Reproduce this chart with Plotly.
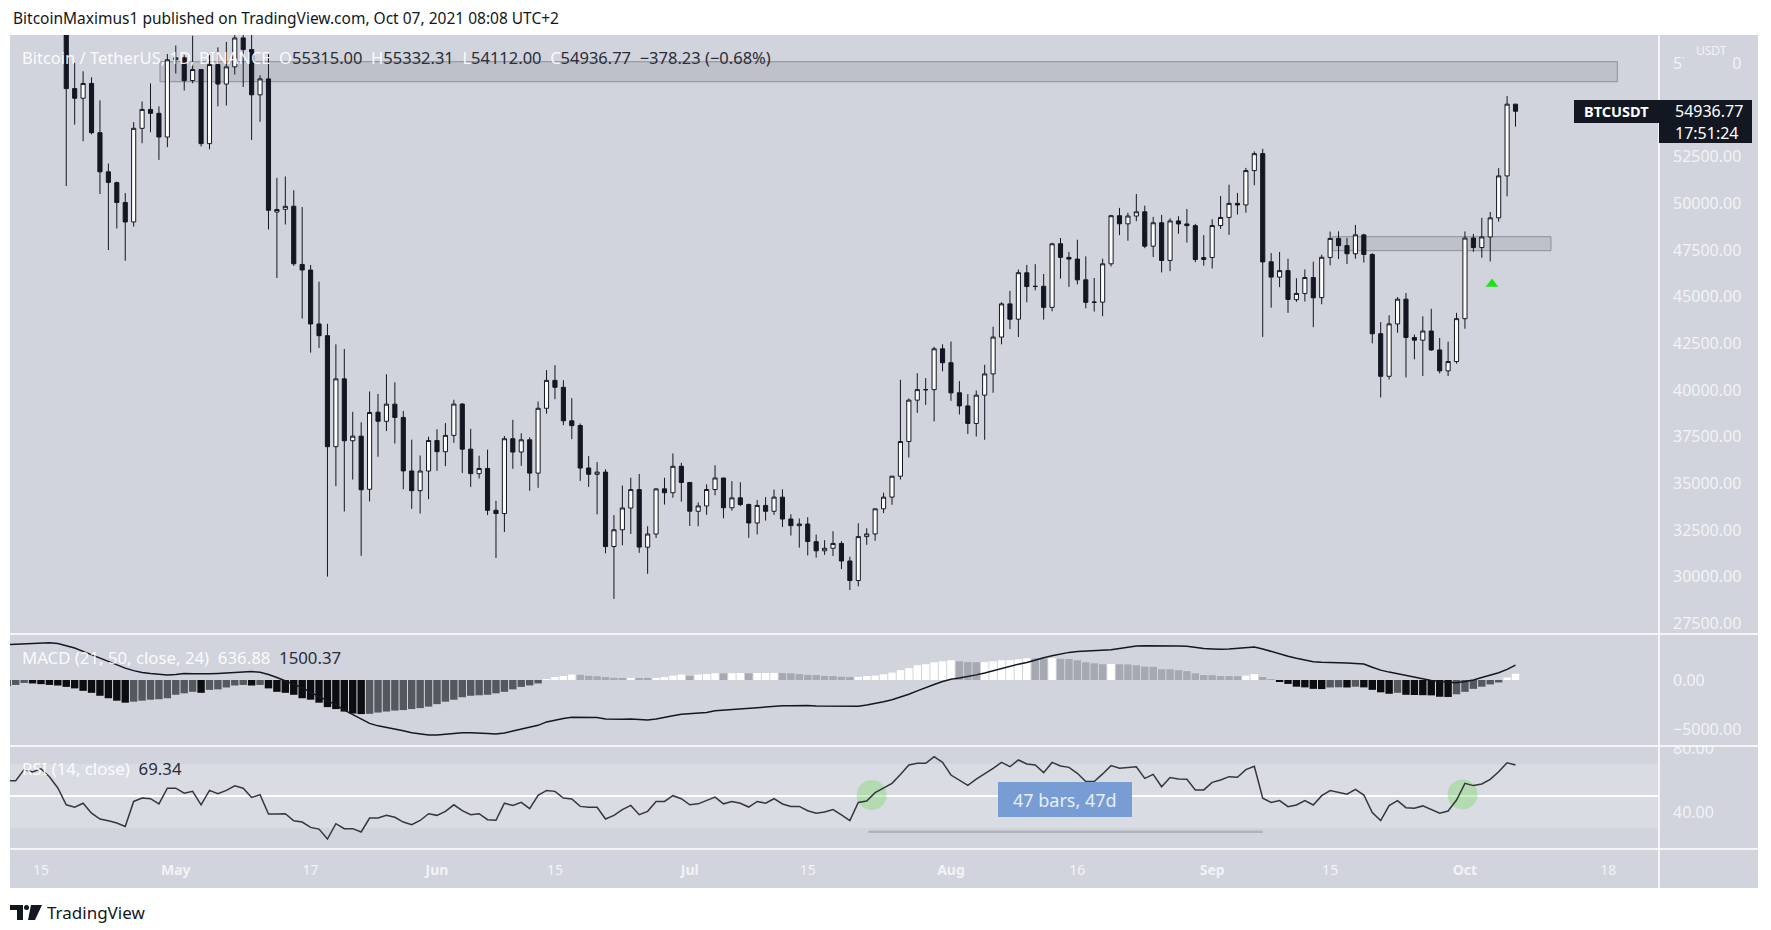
import pandas as pd
import plotly.graph_objects as go
from plotly.subplots import make_subplots

# ---------------- data (daily, 2021-04-11 .. 2021-10-07) ----------------
start_date = "2021-04-11"

opens = [
59770, 59979, 59800, 63575, 62960, 63160, 61334, 60006, 56150, 55633,
56425, 53787, 51690, 51110, 50047, 49004, 54021, 55034, 54824, 53555,
57697, 57798, 56578, 57169, 53200, 57436, 56393, 57315, 58866, 58240,
55816, 56670, 49537, 49682, 49845, 46727, 46427, 43538, 42910, 36964,
40596, 37281, 37528, 34681, 38810, 38324, 39241, 38529, 35661, 34606, 35659,
37293, 36694, 37568, 39246, 36830, 35516, 35796, 33556, 33380, 37389,
36677, 37331, 35546, 39021, 40516, 40143, 38349, 38098, 35820, 35483,
35601, 31614, 32510, 33676, 34663, 31577, 32283, 34702, 34495, 35912,
35045, 33502, 33786, 34668, 35284, 33690, 34220, 33863, 32875, 33815,
33502, 34259, 33086, 32729, 32820, 31874, 31383, 31520, 31778, 30839,
29790, 32144, 32287, 33634, 34261, 35381, 37241, 39456, 40019, 40019, 42206,
41461, 39850, 39146, 38208, 39723, 40862, 42836, 44614, 43794, 46280,
45543, 45558, 44428, 47835, 47107, 47014, 45904, 44696, 44710, 46760,
49339, 48903, 49322, 49547, 47707, 48961, 46942, 49059, 48897, 48807, 46991,
47100, 48810, 49246, 49999, 49917, 51756, 52666, 46868, 46048, 46396,
44842, 45173, 46026, 44949, 47103, 48122, 47737, 47299, 48311, 47261,
43017, 40735, 43540, 44866, 42810, 42670, 43160, 42147, 41025, 41524,
43820, 48142, 47632, 48200, 49224, 51471, 55315]

highs = [
60790, 61199, 63777, 64854, 63800, 63520, 62506, 60499, 57526, 57076,
56757, 55521, 52130, 51166, 50555, 54356, 55460, 56428, 55196, 58000,
58458, 57944, 58981, 57200, 57937, 58360, 58650, 59500, 59300, 59592,
56862, 58000, 51367, 51439, 50700, 49800, 46700, 45800, 43546, 42451,
42200, 38829, 38270, 39920, 39791, 40841, 40411, 38877, 37338, 36488, 37499,
37896, 38225, 39476, 39289, 37916, 36480, 36800, 34068, 37534, 38400,
37680, 37463, 39380, 41064, 41330, 40527, 39560, 38204, 36457, 36137,
35750, 33298, 34881, 35298, 35500, 32700, 34749, 35297, 36600, 36100,
35057, 33977, 34945, 35967, 35293, 35118, 35059, 33918, 34100, 34262,
34666, 34679, 33340, 33114, 33185, 32249, 31955, 32435, 31899, 31063,
32858, 32591, 33650, 34500, 35398, 40550, 39542, 40900, 40640, 42316, 42448,
42599, 40480, 39780, 39969, 41350, 43392, 44700, 45310, 46454, 46700,
46743, 46218, 47886, 48144, 47400, 48053, 47160, 46000, 47033, 49382,
49757, 49500, 50500, 49876, 49278, 49380, 49200, 49310, 49700, 48900, 48300,
49150, 50392, 51000, 50558, 51900, 52780, 52920, 47340, 47399, 47033,
45987, 46460, 46876, 47250, 48487, 48500, 48150, 48843, 48373, 47328,
43639, 44000, 44978, 45200, 42966, 43950, 44350, 42787, 42590, 44132,
48495, 48360, 49228, 49536, 51886, 55750, 55332.31]

lows = [
59289, 59369, 59800, 61301, 62020, 60000, 59580, 50931, 54221, 53329,
53695, 50500, 47500, 48657, 46930, 48753, 53222, 53813, 52330, 53013,
56956, 56044, 56435, 53046, 52900, 55200, 55241, 56900, 56235, 53400,
54370, 48600, 46000, 48868, 46650, 43825, 42001, 42250, 30000, 34850,
33488, 35200, 31111, 34031, 36420, 37800, 37134, 34684, 33632, 33379, 34153,
35666, 35920, 37170, 35555, 34800, 35258, 33300, 31000, 32396, 35782,
35936, 34600, 34757, 38730, 39506, 38116, 37365, 35129, 34803, 33336,
31251, 28805, 31683, 32286, 31275, 30151, 32071, 33862, 34225, 34017,
32712, 32699, 33316, 34357, 33125, 33532, 33777, 32080, 32261, 33004,
33306, 32658, 32202, 31550, 31133, 31020, 31164, 31108, 30407, 29278,
29482, 31708, 31925, 33401, 33851, 35205, 36383, 38772, 39200, 38316, 41000,
39422, 38690, 37642, 37508, 37332, 39853, 42446, 43261, 42843, 44700,
45341, 43770, 44217, 45971, 45525, 45660, 44376, 44203, 43955, 46622,
48300, 48000, 49045, 47600, 47123, 46300, 46371, 48370, 47900, 46850, 46660,
46512, 48634, 48316, 49400, 49500, 50969, 42843, 44412, 45513, 44132,
44722, 44742, 43370, 44594, 46682, 47020, 46750, 47032, 46829, 42500,
39600, 40565, 43069, 40675, 41646, 40750, 42098, 40888, 40753, 41410,
43283, 47400, 47088, 46891, 49022, 50382, 54112]

closes = [
59979, 59800, 63575, 62960, 63160, 61334, 60006, 56150, 55633, 56425,
53787, 51690, 51125, 50047, 49004, 54021, 55034, 54824, 53555, 57694,
57800, 56578, 57169, 53200, 57436, 56393, 57314, 58862, 58240, 55816,
56670, 49631, 49670, 49841, 46762, 46431, 43538, 42909, 36964, 40596,
37281, 37528, 34655, 38796, 38325, 39241, 38529, 35663, 34606, 35658, 37293,
36694, 37569, 39246, 36829, 35520, 35796, 33552, 33380, 37388, 36675,
37331, 35546, 39020, 40516, 40144, 38349, 38092, 35819, 35483, 35600,
31608, 32510, 33678, 34663, 31584, 32283, 34700, 34494, 35911, 35045,
33504, 33787, 34669, 35286, 33690, 34220, 33862, 32875, 33815, 33502,
34259, 33086, 32730, 32820, 31880, 31383, 31520, 31778, 30839, 29790,
32144, 32287, 33634, 34258, 35381, 37237, 39457, 40019, 40016, 42206, 41462,
39846, 39147, 38207, 39723, 40862, 42836, 44614, 43792, 46285, 45543,
45555, 44428, 47834, 47107, 47014, 45902, 44696, 44710, 46760, 49339,
48905, 49321, 49546, 47707, 48960, 46942, 49058, 48897, 48807, 46991, 47100,
48810, 49246, 49999, 49915, 51756, 52663, 46863, 46048, 46395, 44851,
45173, 46026, 44940, 47111, 48122, 47737, 47299, 48314, 47260, 43012,
40734, 43543, 44865, 42811, 42670, 43160, 42147, 41026, 41524, 43824,
48141, 47634, 48200, 49224, 51471, 55315, 54936.77]

macd_line = [
3600,
3650, 3700, 3740, 3770, 3780, 3700, 3500, 3250, 2900, 2550,
2200, 1900, 1550, 1200, 950, 760, 650, 560, 500, 560,
650, 640, 620, 640, 670, 720, 780, 830, 850, 780,
560, 250, -120, -450, -780, -1250, -1650, -2100, -2530, -3050,
-3500, -4000, -4400, -4650, -4800, -5000, -5150, -5350, -5480,
-5570, -5580, -5500, -5380, -5340, -5340, -5350, -5420, -5480, -5380,
-5180, -5000, -4850, -4600, -4250, -4050, -3900, -3790, -3780, -3770,
-3800, -3950, -4000, -3990, -3960, -4000, -4050, -3950, -3750, -3620,
-3480, -3420, -3380, -3300, -3130, -3060, -2990, -2940, -2880, -2800,
-2740, -2660, -2620, -2600, -2580, -2590, -2640, -2650, -2640,
-2670, -2700, -2650, -2530, -2380, -2200, -2000, -1750, -1450, -1100,
-750, -450, -150, 80, 200, 340, 520, 720, 950, 1180,
1400, 1600, 1780, 2050, 2250, 2450, 2640, 2800, 2880, 2930,
2960, 2990, 3080, 3200, 3350, 3450, 3470, 3480, 3470, 3460,
3450, 3420, 3300, 3200, 3150, 3110, 3150, 3210, 3280, 3350,
3150, 2900, 2600, 2400, 2200, 2000, 1850, 1800, 1790, 1760,
1720, 1680, 1620, 1300, 1000, 800, 620, 450, 280, 100,
-50, -150, -230, -270, -150, 0, 250, 500, 740, 1080, 1500.37]

macd_hist = [
-600,
-500, -300, -350, -420, -500, -560, -700, -850, -1100, -1300,
-1600, -1850, -2100, -2300,
-2200, -2100, -2000, -1950, -1850, -1500, -1350, -1200,
-1300,
-1000, -950, -760, -560, -500,
-560, -500,
-850, -1200, -1300, -1500, -1850, -2000, -2300, -2750, -2950, -3200, -3400, -3460,
-3430, -3300, -3200, -3100, -3050, -2950, -2850, -2700, -2450, -2200,
-2000, -1750, -1600, -1550, -1500, -1350, -1200, -950, -700, -550, -350,
100, 300, 400, 550,
530, 420, 380, 300, 220, 200,
220, 130, 110,
170, 300, 450, 560,
420, 550, 600, 690, 670, 690, 700, 680, 700, 710, 720,
700, 680, 600, 520, 500, 420, 400, 330, 300,
310, 400, 450, 580, 750, 1000, 1200, 1500, 1600, 1800, 1900, 2000,
1900, 1820, 1800,
1820, 1900, 2000, 2020, 2100, 2200,
2190, 2180, 2220,
2150, 2130, 2000, 1800, 1700, 1600, 1620,
1600, 1580, 1500, 1350, 1340, 1100, 1090, 1000, 900, 680, 500, 490, 400, 395, 390,
450, 600, 300, 60,
-170, -400, -680, -750, -900, -920, -760, -740, -760, -680,
-750, -1000, -1250, -1400, -1300,
-1500, -1520, -1540, -1560, -1700, -1720,
-1450, -1200, -900, -680, -450, -250,
250, 636.88]

# histogram shade per bar:
# W = rising above zero, G = falling above zero, B = falling below zero, D = rising below zero
hist_shade = list(
    "D" + "DD" + "B" * 12 + "D" * 8 + "B" + "D" * 5 + "B" + "D" + "B" * 12 + "D" * 21
    + "W" * 4 + "G" * 6 + "W" + "GG" + "W" * 4 + "G" + "W" * 3 + "G" + "WW" + "G" + "W" * 3
    + "G" * 9 + "W" * 12 + "G" * 3 + "W" * 6 + "GG" + "W" + "G" * 6 + "W" + "G" * 15 + "WW"
    + "GG" + "B" * 6 + "DD" + "B" + "D" + "B" * 4 + "D" + "B" * 6 + "D" * 6 + "WW")

rsi = [
59.5, 59.6, 66.5, 65.0, 67.0, 62.0, 55.0, 44.5, 43.0, 45.5,
39.3, 35.6, 34.5, 33.1, 31.0, 46.6, 48.7, 48.3, 45.1, 54.9,
54.9, 51.8, 52.9, 44.5, 53.5, 51.4, 53.5, 56.4, 54.9, 49.1,
50.8, 38.7, 38.7, 38.9, 34.5, 33.7, 30.4, 29.3, 23.1, 32.7,
29.6, 29.6, 27.5, 36.2, 36.2, 37.9, 36.7, 33.7, 32.1, 34.7,
38.9, 37.9, 40.4, 44.5, 40.8, 38.3, 38.9, 35.2, 34.8, 45.5,
44.1, 46.0, 42.1, 50.4, 53.5, 52.9, 48.7, 48.1, 43.5, 42.9,
42.9, 35.6, 37.9, 41.5, 44.1, 38.3, 40.4, 46.6, 46.6, 50.2,
48.3, 44.5, 45.1, 47.2, 49.3, 45.1, 46.6, 45.5, 43.1, 46.6,
45.5, 48.3, 45.0, 43.5, 43.5, 40.8, 39.3, 40.0, 41.5, 38.2,
34.6, 46.0, 46.9, 52.1, 54.8, 57.9, 63.5, 69.4, 70.4, 70.4,
74.6, 71.0, 63.1, 60.0, 56.7, 60.6, 63.8, 67.3, 71.0, 68.3,
72.5, 70.0, 69.4, 64.6, 71.0, 68.8, 67.9, 64.2, 59.0, 59.0,
63.8, 69.0, 67.3, 67.9, 68.3, 61.0, 63.5, 55.8, 61.5, 60.6,
60.4, 53.8, 53.8, 58.5, 60.0, 62.1, 61.7, 66.5, 68.6, 48.6,
46.0, 47.1, 43.3, 44.4, 47.1, 44.4, 50.2, 53.4, 52.3, 51.1,
54.2, 50.6, 39.6, 34.6, 44.0, 47.1, 42.7, 42.3, 43.8, 41.3,
39.2, 40.6, 47.5, 57.9, 56.5, 57.5, 60.4, 65.2, 70.8, 69.34]

# annotation objects drawn on the chart
zone_start = ["2021-04-29 03:00", "2021-09-15 06:00"]
zone_end = ["2021-10-19 02:00", "2021-10-11 05:00"]
zone_low = [56518, 47464]
zone_high = [57589, 48214]

signal_dates = ["2021-10-04 05:00"]
signal_prices = [45680]

rsi_mark_dates = ["2021-07-22 14:00", "2021-09-30 17:00"]
rsi_mark_values = [50.6, 51.0]

range_dates = ["2021-07-22 05:00", "2021-09-07 00:00"]
range_level = [27.7, 27.7]
range_label = "47 bars, 47d"

tick_dates = ["2021-04-15", "2021-05-01", "2021-05-17", "2021-06-01", "2021-06-15",
              "2021-07-01", "2021-07-15", "2021-08-01", "2021-08-16", "2021-09-01",
              "2021-09-15", "2021-10-01", "2021-10-18"]
tick_text = ["15", "<b>May</b>", "17", "<b>Jun</b>", "15", "<b>Jul</b>", "15",
             "<b>Aug</b>", "16", "<b>Sep</b>", "15", "<b>Oct</b>", "18"]

price_ticks = [27500, 30000, 32500, 35000, 37500, 40000, 42500, 45000,
               47500, 50000, 52500, 55000, 57500]
macd_ticks = [0, -5000]
rsi_ticks = [40, 80]

dates = pd.date_range(start_date, periods=len(closes), freq="D")

# ---------------- geometry helpers (pixels -> paper) ----------------
W, H = 1771, 930
PL, PR, PT, PB = 10, 1659, 35, 849


def px(x):
    return (x - PL) / (PR - PL)


def py(y):
    return (PB - y) / (PB - PT)


BG = "#d1d4dc"
DARK = "#131722"
TICK_COL = "#f2f3f6"
FONT = "Noto Sans"

fig = make_subplots(rows=3, cols=1, shared_xaxes=True, vertical_spacing=0)

fig.add_trace(go.Candlestick(
    x=dates, open=opens, high=highs, low=lows, close=closes,
    increasing=dict(line=dict(color=DARK, width=1), fillcolor="#ffffff"),
    decreasing=dict(line=dict(color=DARK, width=1), fillcolor=DARK),
    whiskerwidth=0, showlegend=False), row=1, col=1)

fig.add_trace(go.Scatter(
    x=signal_dates, y=signal_prices, mode="markers",
    marker=dict(symbol="triangle-up", size=11, color="#1fe21f"),
    showlegend=False, hoverinfo="skip"), row=1, col=1)

shade_col = {"W": "#ffffff", "G": "#a6a9b2", "B": "#0c0d11", "D": "#56585f"}
fig.add_trace(go.Bar(
    x=dates, y=macd_hist, marker=dict(color=[shade_col[s] for s in hist_shade], line=dict(width=0)),
    showlegend=False, hoverinfo="skip"), row=2, col=1)
fig.add_trace(go.Scatter(
    x=dates, y=macd_line, mode="lines", line=dict(color=DARK, width=1.5),
    showlegend=False, hoverinfo="skip"), row=2, col=1)

fig.add_trace(go.Scatter(
    x=rsi_mark_dates, y=rsi_mark_values, mode="markers",
    marker=dict(size=30, color="rgba(110,215,90,0.36)", line=dict(width=0)),
    showlegend=False, hoverinfo="skip"), row=3, col=1)
fig.add_trace(go.Scatter(
    x=range_dates, y=range_level, mode="lines", line=dict(color="#b0b3bb", width=2.5),
    showlegend=False, hoverinfo="skip"), row=3, col=1)
fig.add_trace(go.Scatter(
    x=dates, y=rsi, mode="lines", line=dict(color="#35373d", width=1.5),
    showlegend=False, hoverinfo="skip"), row=3, col=1)

shapes = []
# axis-area backgrounds
shapes.append(dict(type="rect", xref="paper", yref="paper", x0=px(1659), x1=px(1758),
                   y0=py(888), y1=py(35), fillcolor=BG, line=dict(width=0), layer="below"))
shapes.append(dict(type="rect", xref="paper", yref="paper", x0=px(10), x1=px(1659),
                   y0=py(888), y1=py(849), fillcolor=BG, line=dict(width=0), layer="below"))
# zones
for s, e, lo, hi in zip(zone_start, zone_end, zone_low, zone_high):
    shapes.append(dict(type="rect", xref="x", yref="y", x0=s, x1=e, y0=lo, y1=hi,
                       fillcolor="rgba(168,171,180,0.45)", line=dict(color="#8d9098", width=1),
                       layer="below"))
# RSI band + midline
shapes.append(dict(type="rect", xref="x3 domain", yref="y3", x0=0, x1=1, y0=30, y1=70,
                   fillcolor="rgba(255,255,255,0.2)", line=dict(width=0), layer="below"))
shapes.append(dict(type="line", xref="x3 domain", yref="y3", x0=0, x1=1, y0=50, y1=50,
                   line=dict(color="#ffffff", width=2), layer="below"))
# cover for clipped RSI top label and USDT box
shapes.append(dict(type="rect", xref="paper", yref="paper", x0=px(1660), x1=px(1758),
                   y0=py(746), y1=py(738), fillcolor=BG, line=dict(width=0), layer="above"))
shapes.append(dict(type="rect", xref="paper", yref="paper", x0=px(1684), x1=px(1733),
                   y0=py(76), y1=py(38), fillcolor=BG, line=dict(width=0), layer="above"))
# separators
for yy in (634, 746, 849):
    shapes.append(dict(type="line", xref="paper", yref="paper", x0=px(10), x1=px(1758),
                       y0=py(yy), y1=py(yy), line=dict(color="#ffffff", width=1.5), layer="above"))
shapes.append(dict(type="line", xref="paper", yref="paper", x0=px(1659), x1=px(1659),
                   y0=py(888), y1=py(35), line=dict(color="#ffffff", width=1.5), layer="above"))
# last price labels
shapes.append(dict(type="rect", xref="paper", yref="paper", x0=px(1574), x1=px(1659),
                   y0=py(123), y1=py(100), fillcolor=DARK, line=dict(width=0), layer="above"))
shapes.append(dict(type="rect", xref="paper", yref="paper", x0=px(1659), x1=px(1752),
                   y0=py(143), y1=py(100), fillcolor=DARK, line=dict(width=0), layer="above"))
# date-range label box
shapes.append(dict(type="rect", xref="paper", yref="paper", x0=px(998), x1=px(1132),
                   y0=py(817), y1=py(782), fillcolor="#789dd5", line=dict(width=0), layer="above"))


# TradingView logo (simple glyph)
def pth(points):
    return "M " + " L ".join(f"{px(a):.5f},{py(b):.5f}" for a, b in points) + " Z"


shapes.append(dict(type="path", xref="paper", yref="paper",
                   path=pth([(10, 905), (23, 905), (23, 920), (17, 920), (17, 910), (10, 910)]),
                   fillcolor=DARK, line=dict(width=0)))
shapes.append(dict(type="circle", xref="paper", yref="paper", x0=px(24), x1=px(29),
                   y0=py(910), y1=py(905), fillcolor=DARK, line=dict(width=0)))
shapes.append(dict(type="path", xref="paper", yref="paper",
                   path=pth([(31, 905), (42, 905), (35, 920), (28, 920)]),
                   fillcolor=DARK, line=dict(width=0)))


def note(x, y, text, size, color=None, xanchor="left", **kw):
    f = dict(family=FONT, size=size)
    if color:
        f["color"] = color
    d = dict(xref="paper", yref="paper", x=px(x), y=py(y), xanchor=xanchor, yanchor="middle",
             text=text, showarrow=False, font=f)
    d.update(kw)
    return d


VC = "#2a2e39"
WC = "rgba(255,255,255,0.92)"
ann = []
ann.append(note(11, 18, "BitcoinMaximus1 published on TradingView.com, Oct 07, 2021 08:08 UTC+2",
                15.5, DARK))
legend_txt = (f"<span style='color:{WC}'>Bitcoin / TetherUS, 1D, BINANCE&nbsp;&nbsp;O</span>"
              f"<span style='color:{VC}'>55315.00</span>"
              f"<span style='color:{WC}'>&nbsp;&nbsp;H</span><span style='color:{VC}'>55332.31</span>"
              f"<span style='color:{WC}'>&nbsp;&nbsp;L</span><span style='color:{VC}'>54112.00</span>"
              f"<span style='color:{WC}'>&nbsp;&nbsp;C</span><span style='color:{VC}'>54936.77</span>"
              f"<span style='color:{VC}'>&nbsp;&nbsp;−378.23 (−0.68%)</span>")
ann.append(note(20, 58, legend_txt, 16.5))
ann.append(note(20, 657, (f"<span style='color:{WC}'>MACD (21, 50, close, 24)&nbsp;&nbsp;636.88</span>"
                          f"<span style='color:{VC}'>&nbsp;&nbsp;1500.37</span>"), 16.8))
ann.append(note(20, 768, (f"<span style='color:{WC}'>RSI (14, close)</span>"
                          f"<span style='color:{VC}'>&nbsp;&nbsp;69.34</span>"), 16.8))
ann.append(note(1065, 799.5, range_label, 18, "#e9eef7", xanchor="center"))
ann.append(note(1616.5, 111.5, "<b>BTCUSDT</b>", 14.5, "#ffffff", xanchor="center"))
ann.append(note(1673, 111.5, "54936.77", 16, "#ffffff"))
ann.append(note(1673, 132.5, "17:51:24", 16, "#ffffff"))
ann.append(note(1711, 50, "USDT", 12, TICK_COL, xanchor="center"))
ann.append(note(45, 912, "TradingView", 17, DARK))

yax_common = dict(side="right", showgrid=False, zeroline=False, showline=False, ticks="",
                  tickformat=".2f", ticklabelstandoff=13,
                  tickfont=dict(family=FONT, size=16, color=TICK_COL), fixedrange=True)
x_range = ["2021-04-11 07:46", "2021-10-24 00:43"]
xax_common = dict(showgrid=False, zeroline=False, showline=False, ticks="", range=x_range,
                  type="date")

fig.update_layout(
    width=W, height=H,
    margin=dict(l=PL, r=W - PR, t=PT, b=H - PB, pad=0),
    paper_bgcolor="#ffffff", plot_bgcolor=BG,
    showlegend=False, bargap=0.12,
    shapes=shapes, annotations=ann,
    font=dict(family=FONT),
    xaxis=dict(**xax_common, showticklabels=False, rangeslider=dict(visible=False)),
    xaxis2=dict(**xax_common, showticklabels=False),
    xaxis3=dict(**xax_common, showticklabels=True, tickvals=tick_dates, ticktext=tick_text,
                ticklabelstandoff=11, tickfont=dict(family=FONT, size=14, color=TICK_COL)),
    yaxis=dict(**yax_common, domain=[py(634), 1], range=[26926, 59021], tickvals=price_ticks),
    yaxis2=dict(**yax_common, domain=[py(746), py(634)], range=[-6694, 4665], tickvals=macd_ticks),
    yaxis3=dict(**yax_common, domain=[0, py(746)], range=[16.875, 81.25], tickvals=rsi_ticks),
)

fig.write_html("out.html", config={"displayModeBar": False},
               post_script="document.body.style.margin='0px';")
